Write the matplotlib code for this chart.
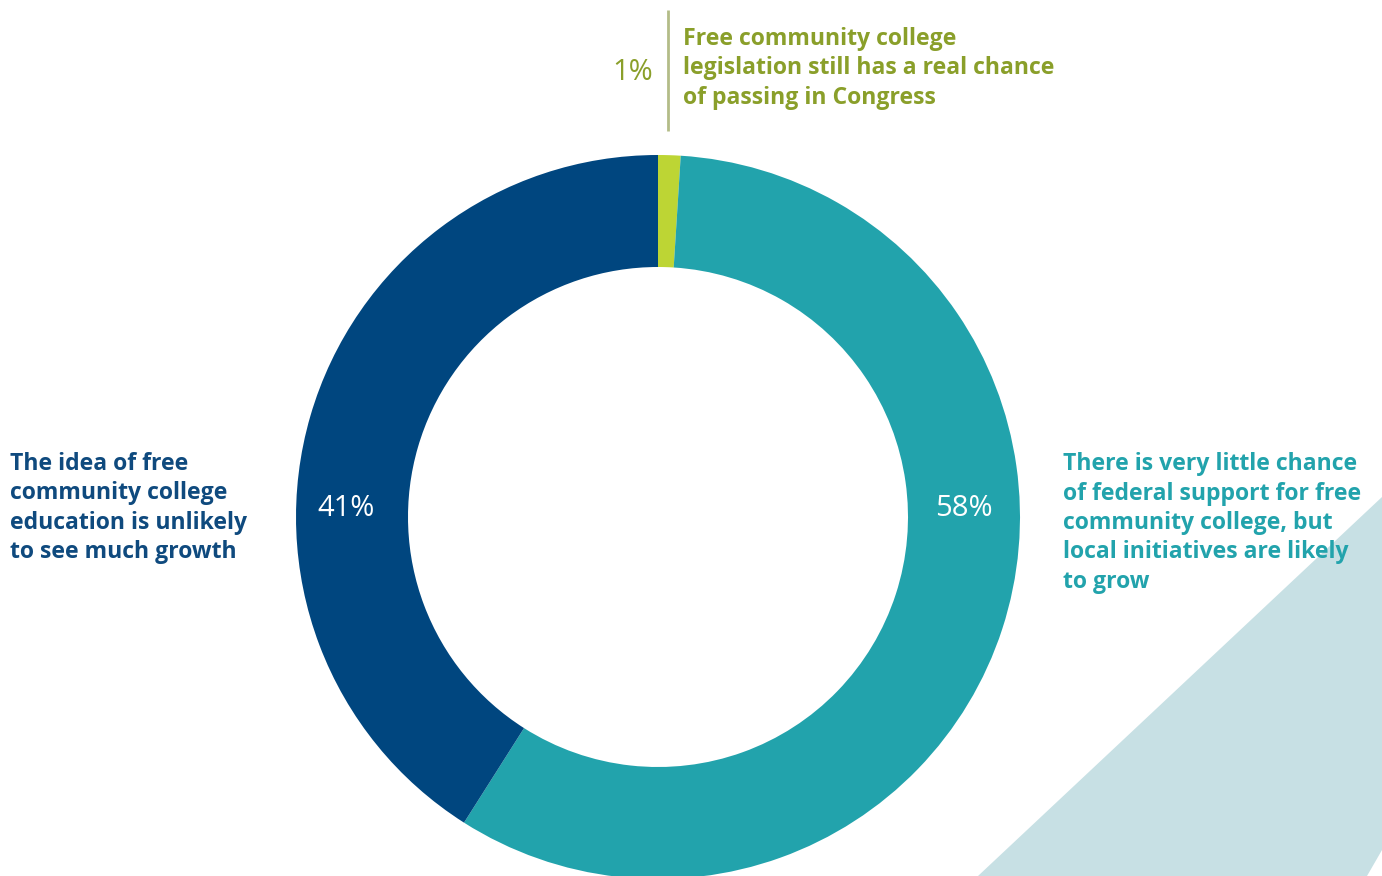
import matplotlib
matplotlib.use("Agg")
import matplotlib.pyplot as plt
from matplotlib.patches import Polygon

# data
labels = [
    "Free community college\nlegislation still has a real chance\nof passing in Congress",
    "There is very little chance\nof federal support for free\ncommunity college, but\nlocal initiatives are likely\nto grow",
    "The idea of free\ncommunity college\neducation is unlikely\nto see much growth",
]
shares = [1, 58, 41]
pct_labels = ["1%", "58%", "41%"]

colors = ["#BDD534", "#22A3AC", "#00467F"]
text_colors = ["#8A9F2A", "#22A3AC", "#0F4A7E"]

W, H = 1382, 876
fig = plt.figure(figsize=(W / 100, H / 100), dpi=100)
ax = fig.add_axes([0, 0, 1, 1])

def py(y):
    # pixel row -> data y
    return H - y

# decorative background band
ax.add_patch(Polygon([(978, py(876)), (1382, py(497)), (1382, py(850)), (1367, py(876))],
                     closed=True, facecolor="#C7E0E4", edgecolor="none", zorder=0))

ax.pie(shares, colors=colors, startangle=90, counterclock=False,
       center=(658, py(517)), radius=362,
       wedgeprops=dict(width=112, linewidth=0), frame=True)

ax.set_xlim(0, W)
ax.set_ylim(0, H)
ax.set_aspect("equal")
ax.axis("off")

bold = dict(family="Open Sans", fontweight="bold", fontsize=16.6, linespacing=1.3)
thin = dict(family="Open Sans", fontweight="normal", fontsize=21)

# 1% callout at the top
ax.plot([668, 668], [py(10), py(131)], color="#B3BC88", lw=2, solid_capstyle="butt")
ax.text(653, py(73), pct_labels[0], color=text_colors[0], ha="right", va="center", **thin)
ax.text(683, py(68.5), labels[0], color=text_colors[0], ha="left", va="center", **bold)

# ring percentages
ax.text(964, py(508), pct_labels[1], color="white", ha="center", va="center", **thin)
ax.text(346, py(508), pct_labels[2], color="white", ha="center", va="center", **thin)

# side labels
ax.text(1063, py(523), labels[1], color=text_colors[1], ha="left", va="center", **bold)
ax.text(10, py(508), labels[2], color=text_colors[2], ha="left", va="center", **bold)

fig.savefig("out.png", dpi=100, facecolor="white")
